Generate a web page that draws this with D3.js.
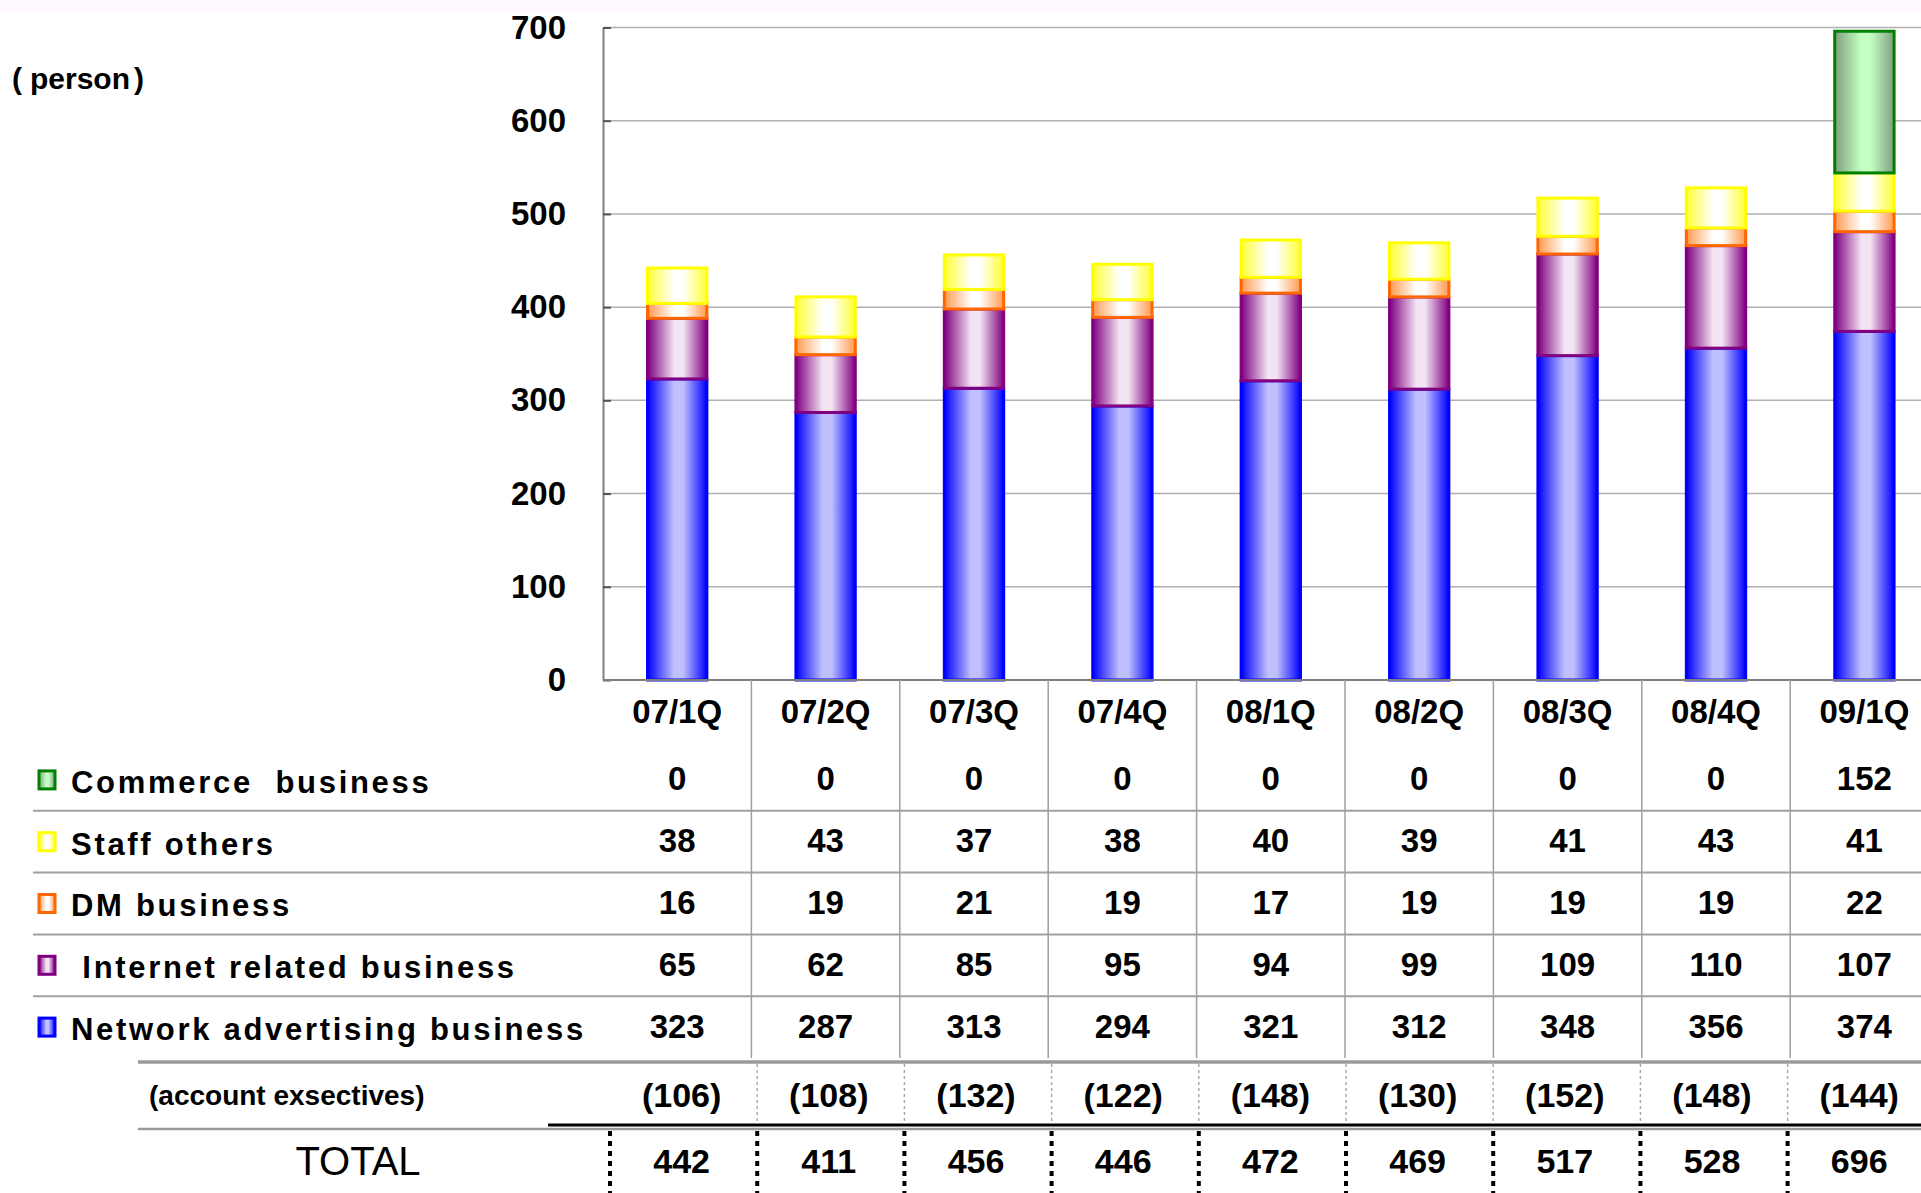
<!DOCTYPE html>
<html>
<head>
<meta charset="utf-8">
<script src="https://cdn.jsdelivr.net/npm/d3@7"></script>
<style>
  body { margin: 0; background: #fff; }
  svg text { font-family: "Liberation Sans", Arial, sans-serif; fill: #000; }
</style>
</head>
<body>
<div id="chart"></div>
<script>
let quarters = ['07/1Q', '07/2Q', '07/3Q', '07/4Q', '08/1Q', '08/2Q', '08/3Q', '08/4Q', '09/1Q']
let commerce = [0, 0, 0, 0, 0, 0, 0, 0, 152]
let staffOthers = [38, 43, 37, 38, 40, 39, 41, 43, 41]
let dmBusiness = [16, 19, 21, 19, 17, 19, 19, 19, 22]
let internetRelated = [65, 62, 85, 95, 94, 99, 109, 110, 107]
let networkAdvertising = [323, 287, 313, 294, 321, 312, 348, 356, 374]
let accountExecutives = [106, 108, 132, 122, 148, 130, 152, 148, 144]
let totals = [442, 411, 456, 446, 472, 469, 517, 528, 696]
let yTicks = [0, 100, 200, 300, 400, 500, 600, 700]

// table rows, top to bottom
let seriesNames = ['Commerce  business', 'Staff others', 'DM business', ' Internet related business', 'Network advertising business']
let seriesValues = [commerce, staffOthers, dmBusiness, internetRelated, networkAdvertising]
let seriesColors = [
    {id: 'gGreen', stroke: '#008000', edge: '#7fa07f', mid: '#c4ffc4'},
    {id: 'gYellow', stroke: '#ffff00', edge: '#ffff33', mid: '#ffffff'},
    {id: 'gOrange', stroke: '#ff6600', edge: '#ff9a50', mid: '#ffffff'},
    {id: 'gPurple', stroke: '#800080', edge: '#800080', mid: '#f2e4f2'},
    {id: 'gBlue', stroke: '#0000ff', edge: '#0000ff', mid: '#c0c0ff'}
]

let W = 1921, H = 1193
let svg = d3.select('#chart').append('svg').attr('width', W).attr('height', H)

svg.append('rect').attr('width', W).attr('height', H).attr('fill', '#fff')
svg.append('rect').attr('width', W).attr('height', 13).attr('fill', '#fff9ff')

let defs = svg.append('defs')
seriesColors.forEach((c) => {
    let g = defs.append('linearGradient').attr('id', c.id)
        .attr('x1', 0).attr('x2', 1).attr('y1', 0).attr('y2', 0)
    g.append('stop').attr('offset', '0%').attr('stop-color', c.edge)
    g.append('stop').attr('offset', '45%').attr('stop-color', c.mid)
    g.append('stop').attr('offset', '60%').attr('stop-color', c.mid)
    g.append('stop').attr('offset', '100%').attr('stop-color', c.edge)
})

let plotLeft = 603
let step = 148.4
let col = d3.scaleBand().domain(quarters).range([plotLeft, plotLeft + quarters.length * step]).padding(0)
let y = d3.scaleLinear().domain([0, 700]).range([680, 27.5])

// gridlines
svg.append('g').selectAll('line')
    .data(yTicks.filter((t) => t > 0))
    .enter().append('line')
    .attr('x1', plotLeft).attr('x2', W)
    .attr('y1', (t) => y(t)).attr('y2', (t) => y(t))
    .attr('stroke', '#b0b0b0').attr('stroke-width', 1.5)

// y axis
let yAxis = svg.append('g')
    .attr('transform', 'translate(' + plotLeft + ',0)')
    .call(d3.axisLeft(y).tickValues(yTicks).tickSize(0).tickPadding(37))
yAxis.select('.domain').attr('stroke', '#808080').attr('stroke-width', 2)
yAxis.selectAll('text').attr('font-size', 33).attr('font-weight', 'bold')
    .attr('font-family', '"Liberation Sans", Arial, sans-serif')
yAxis.selectAll('.tick').append('line')
    .attr('x1', 0).attr('x2', 8).attr('stroke', '#555').attr('stroke-width', 2)

let unit = svg.append('text').attr('x', 12).attr('y', 78).attr('dy', '0.35em')
    .attr('font-size', 30).attr('font-weight', 'bold')
unit.append('tspan').text('(')
unit.append('tspan').attr('dx', 8).text('person')
unit.append('tspan').attr('dx', 4).text(')')

// stacked bars
let stackRows = quarters.map((q, i) => {
    let row = {quarter: q}
    seriesNames.forEach((name, s) => { row[name] = seriesValues[s][i] })
    return row
})
let stackKeys = seriesNames.slice().reverse()
let stacked = d3.stack().keys(stackKeys)(stackRows)

let barWidth = col.bandwidth() * 0.4
stacked.forEach((layer) => {
    let c = seriesColors[seriesNames.indexOf(layer.key)]
    svg.append('g').selectAll('rect')
        .data(layer.filter((d) => d[1] - d[0] > 0))
        .enter().append('rect')
        .attr('x', (d) => col(d.data.quarter) + (col.bandwidth() - barWidth) / 2)
        .attr('width', barWidth)
        .attr('y', (d) => y(d[1]))
        .attr('height', (d) => y(d[0]) - y(d[1]))
        .attr('fill', 'url(#' + c.id + ')')
        .attr('stroke', c.stroke)
        .attr('stroke-width', 3)
})

// x axis line
svg.append('line').attr('x1', plotLeft).attr('x2', W)
    .attr('y1', y(0)).attr('y2', y(0))
    .attr('stroke', '#808080').attr('stroke-width', 2)

// data table
let rowScale = d3.scaleBand().domain(seriesNames).range([749, 749 + seriesNames.length * 61.8])
let tableBottom = rowScale.range()[1]

svg.append('g').selectAll('line')
    .data(quarters.slice(1))
    .enter().append('line')
    .attr('x1', (q) => col(q)).attr('x2', (q) => col(q))
    .attr('y1', y(0)).attr('y2', tableBottom)
    .attr('stroke', '#a0a0a0').attr('stroke-width', 1.5)

svg.append('g').selectAll('line')
    .data(seriesNames.slice(1))
    .enter().append('line')
    .attr('x1', 33).attr('x2', W)
    .attr('y1', (n) => rowScale(n)).attr('y2', (n) => rowScale(n))
    .attr('stroke', '#a0a0a0').attr('stroke-width', 2)

svg.append('g').selectAll('text')
    .data(quarters)
    .enter().append('text')
    .attr('x', (q) => col(q) + col.bandwidth() / 2)
    .attr('y', 711).attr('dy', '0.35em')
    .attr('text-anchor', 'middle')
    .attr('font-size', 33).attr('font-weight', 'bold')
    .text((q) => q)

seriesNames.forEach((name, s) => {
    let cy = rowScale(name) + rowScale.bandwidth() / 2
    let c = seriesColors[s]
    svg.append('rect')
        .attr('x', 39).attr('y', cy - 9).attr('width', 16).attr('height', 18)
        .attr('fill', 'url(#' + c.id + ')')
        .attr('stroke', c.stroke).attr('stroke-width', 3)
    svg.append('text')
        .attr('x', 71).attr('y', cy + 2).attr('dy', '0.35em')
        .attr('font-size', 31).attr('font-weight', 'bold')
        .attr('letter-spacing', 2.7)
        .style('white-space', 'pre')
        .text(name)
    svg.append('g').selectAll('text')
        .data(seriesValues[s])
        .enter().append('text')
        .attr('x', (v, i) => col(quarters[i]) + col.bandwidth() / 2)
        .attr('y', cy - 1).attr('dy', '0.35em')
        .attr('text-anchor', 'middle')
        .attr('font-size', 33).attr('font-weight', 'bold')
        .text((v) => v)
})

// account executives + total rows
let tot = d3.scaleBand().domain(quarters).range([610, 610 + quarters.length * 147.2]).padding(0)

svg.append('line').attr('x1', 138).attr('x2', W).attr('y1', 1062).attr('y2', 1062)
    .attr('stroke', '#9a9a9a').attr('stroke-width', 3.5)
svg.append('line').attr('x1', 548).attr('x2', W).attr('y1', 1125).attr('y2', 1125)
    .attr('stroke', '#000').attr('stroke-width', 3)
svg.append('line').attr('x1', 138).attr('x2', W).attr('y1', 1129).attr('y2', 1129)
    .attr('stroke', '#9a9a9a').attr('stroke-width', 2.5)

svg.append('g').selectAll('line')
    .data(quarters.slice(1))
    .enter().append('line')
    .attr('x1', (q) => tot(q)).attr('x2', (q) => tot(q))
    .attr('y1', 1064).attr('y2', 1123)
    .attr('stroke', '#aaa').attr('stroke-width', 1.5).attr('stroke-dasharray', '3,3')

svg.append('g').selectAll('line')
    .data(quarters)
    .enter().append('line')
    .attr('x1', (q) => tot(q)).attr('x2', (q) => tot(q))
    .attr('y1', 1131).attr('y2', H)
    .attr('stroke', '#000').attr('stroke-width', 4).attr('stroke-dasharray', '5,5')

svg.append('text').attr('x', 149).attr('y', 1095).attr('dy', '0.35em')
    .attr('font-size', 28).attr('font-weight', 'bold')
    .text('(account exsectives)')

svg.append('g').selectAll('text')
    .data(accountExecutives)
    .enter().append('text')
    .attr('x', (v, i) => tot(quarters[i]) + tot.bandwidth() / 2 - 2)
    .attr('y', 1095).attr('dy', '0.35em')
    .attr('text-anchor', 'middle')
    .attr('font-size', 34).attr('font-weight', 'bold')
    .text((v) => '(' + v + ')')

svg.append('text').attr('x', 358).attr('y', 1161).attr('dy', '0.35em')
    .attr('text-anchor', 'middle')
    .attr('font-size', 40)
    .text('TOTAL')

svg.append('g').selectAll('text')
    .data(totals)
    .enter().append('text')
    .attr('x', (v, i) => tot(quarters[i]) + tot.bandwidth() / 2 - 2)
    .attr('y', 1161).attr('dy', '0.35em')
    .attr('text-anchor', 'middle')
    .attr('font-size', 34).attr('font-weight', 'bold')
    .text((v) => v)
</script>
</body>
</html>
